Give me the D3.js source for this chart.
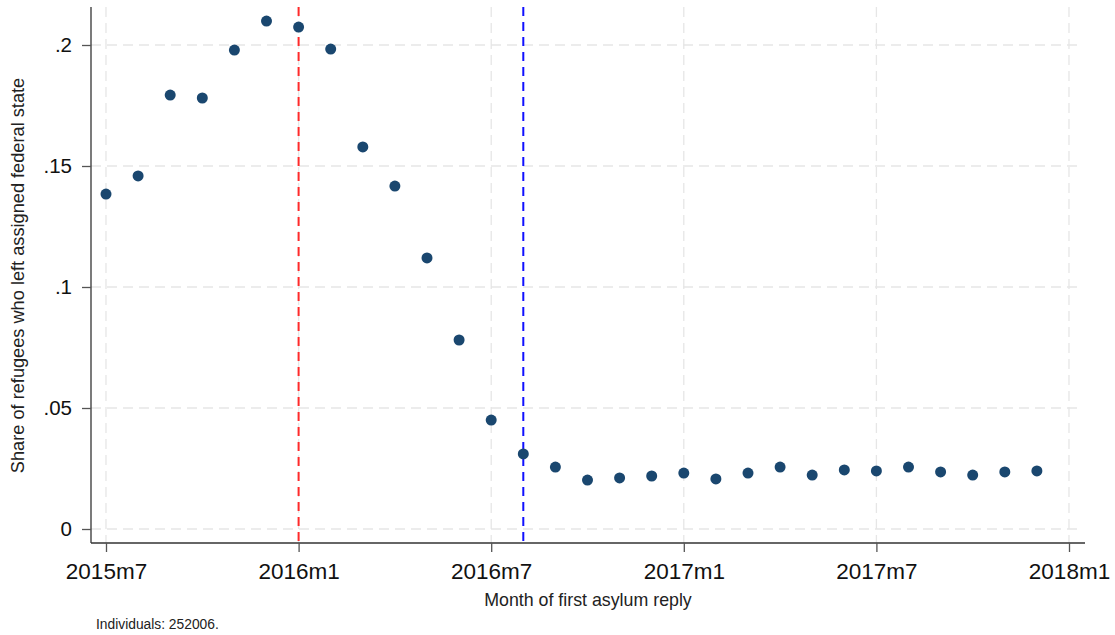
<!DOCTYPE html>
<html>
<head>
<meta charset="utf-8">
<script src="https://cdn.jsdelivr.net/npm/d3@7"></script>
<style>
  html, body { margin: 0; padding: 0; background: #fff; }
  svg { display: block; font-family: "Liberation Sans", Arial, sans-serif; }
</style>
</head>
<body>
<svg id="chart" width="1115" height="635"></svg>
<script>
// Monthly share of refugees leaving their assigned federal state, 2015m7–2017m12
const months = [
  "2015m7","2015m8","2015m9","2015m10","2015m11","2015m12",
  "2016m1","2016m2","2016m3","2016m4","2016m5","2016m6",
  "2016m7","2016m8","2016m9","2016m10","2016m11","2016m12",
  "2017m1","2017m2","2017m3","2017m4","2017m5","2017m6",
  "2017m7","2017m8","2017m9","2017m10","2017m11","2017m12"
];
const shareLeft = [
  0.1384, 0.1459, 0.1793, 0.1781, 0.1979, 0.2099,
  0.2074, 0.1983, 0.1579, 0.1417, 0.1120, 0.0781,
  0.0450, 0.0310, 0.0256, 0.0202, 0.0211, 0.0219,
  0.0231, 0.0207, 0.0231, 0.0256, 0.0223, 0.0244,
  0.0240, 0.0256, 0.0236, 0.0223, 0.0236, 0.0240
];
const xTickLabels = ["2015m7","2016m1","2016m7","2017m1","2017m7","2018m1"];
const xTickIndex = [0, 6, 12, 18, 24, 30];
const yTicks = [0, 0.05, 0.1, 0.15, 0.2];
const yTickLabels = ["0", ".05", ".1", ".15", ".2"];
// Reference months marked with vertical lines
const markerLines = [
  { index: 6, color: "#ff2a2a" },
  { index: 13, color: "#1010ff" }
];

const svg = d3.select("#chart");
const plotLeft = 91, plotRight = 1085, gridRight = 1080, plotTop = 7, plotBottom = 543;

const x = d3.scaleLinear().domain([0, 30]).range([106, 1069]);
const y = d3.scaleLinear().domain([0, 0.2]).range([529, 45]);

// Grid
const grid = svg.append("g");
grid.selectAll("line.h").data(yTicks).join("line")
  .attr("x1", plotLeft).attr("x2", gridRight)
  .attr("y1", d => y(d)).attr("y2", d => y(d))
  .attr("stroke", "#e6e6e6").attr("stroke-width", 1.3)
  .attr("stroke-dasharray", "10,6");
grid.selectAll("line.v").data(xTickIndex).join("line")
  .attr("x1", d => x(d)).attr("x2", d => x(d))
  .attr("y1", plotTop).attr("y2", plotBottom)
  .attr("stroke", "#e6e6e6").attr("stroke-width", 1.3)
  .attr("stroke-dasharray", "10,6");

// Marker lines
svg.append("g").selectAll("line").data(markerLines).join("line")
  .attr("x1", d => x(d.index)).attr("x2", d => x(d.index))
  .attr("y1", plotTop).attr("y2", plotBottom)
  .attr("stroke", d => d.color).attr("stroke-width", 2)
  .attr("stroke-dasharray", "9,6");

// Axes
const yAxis = d3.axisLeft(y).tickValues(yTicks)
  .tickFormat((d, i) => yTickLabels[i]).tickSize(9).tickPadding(10);
const gy = svg.append("g").attr("transform", `translate(${plotLeft},0)`).call(yAxis);
gy.select(".domain").attr("d", `M0,${plotTop}V${plotBottom}`).attr("stroke", "#333").attr("stroke-width", 1.3);
gy.selectAll(".tick line").attr("stroke", "#555").attr("stroke-width", 1.3);
gy.selectAll(".tick text").attr("font-size", 20.5).attr("fill", "#111")
  .attr("font-family", "Liberation Sans, Arial, sans-serif");

const xAxis = d3.axisBottom(x).tickValues(xTickIndex)
  .tickFormat((d, i) => xTickLabels[i]).tickSize(9).tickPadding(11);
const gx = svg.append("g").attr("transform", `translate(0,${plotBottom})`).call(xAxis);
gx.select(".domain").attr("d", `M${plotLeft},0H${plotRight}`).attr("stroke", "#333").attr("stroke-width", 1.3);
gx.selectAll(".tick line").attr("stroke", "#555").attr("stroke-width", 1.3);
gx.selectAll(".tick text").attr("font-size", 22.5).attr("fill", "#111")
  .attr("font-family", "Liberation Sans, Arial, sans-serif");

// Points
svg.append("g").selectAll("circle").data(shareLeft).join("circle")
  .attr("cx", (d, i) => x(i)).attr("cy", d => y(d))
  .attr("r", 5.5).attr("fill", "#1a476f");

// Titles
svg.append("text").attr("x", 588).attr("y", 606)
  .attr("text-anchor", "middle").attr("font-size", 17.8).attr("fill", "#222")
  .text("Month of first asylum reply");
svg.append("text")
  .attr("transform", "translate(24,275.5) rotate(-90)")
  .attr("text-anchor", "middle").attr("font-size", 18.2).attr("fill", "#222")
  .text("Share of refugees who left assigned federal state");
svg.append("text").attr("x", 96).attr("y", 629)
  .attr("font-size", 13.8).attr("fill", "#222")
  .text("Individuals: 252006.");
</script>
</body>
</html>
